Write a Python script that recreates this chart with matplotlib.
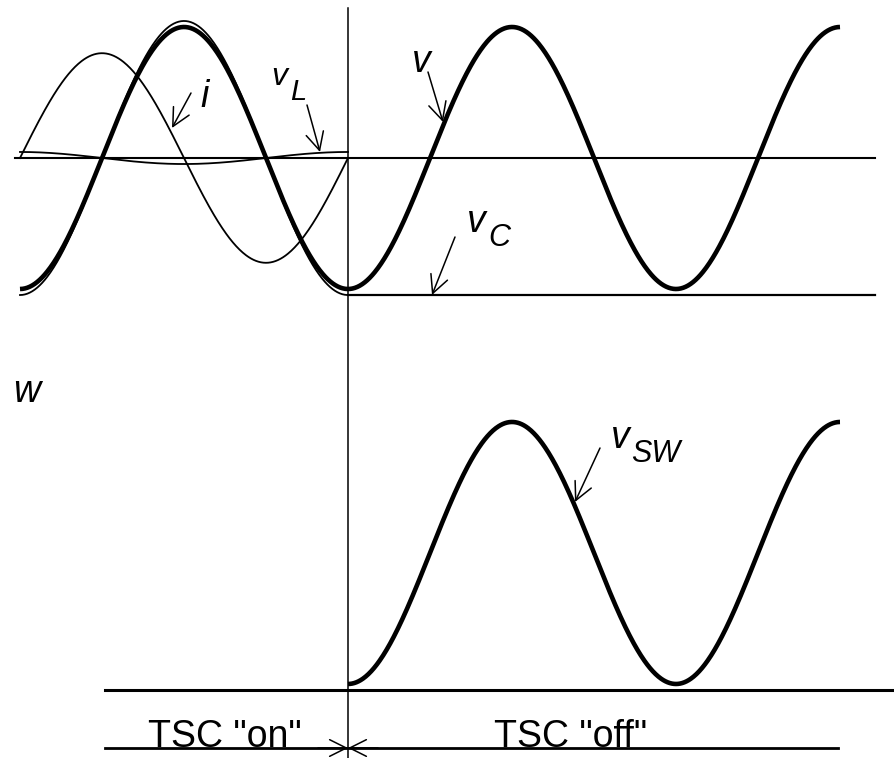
import numpy as np
import matplotlib
matplotlib.use("Agg")
from matplotlib import pyplot as plt

plt.rcParams['font.family'] = ['Liberation Sans', 'DejaVu Sans']

# waveform parameters, per unit of the supply voltage peak
# phase in degrees, 0 = negative peak of v, switch-off at 360
SWITCH_DEG = 360.0
END_DEG = 900.0
V_PEAK = 1.0          # supply voltage v
VC_PEAK = 1.046       # capacitor voltage while TSC is on
VL_PEAK = 0.046       # reactor voltage (v - vC)
I_PEAK = 0.80         # capacitor current (leads v by 90 deg)

# pixel layout of the drawing (schematic, not data)
X0_PX = 20.0          # x pixel of phase 0
PX_PER_DEG = 328.0 / 360.0
Y_TOP_PX = 158.0      # zero line of upper trace
Y_BOT_PX = 690.0      # zero line of switch voltage trace
PX_PER_PU = 131.0

W, H = 895, 758


def px2x(px):
    return (px - X0_PX) / PX_PER_DEG


def px2y(py):
    return (Y_TOP_PX - py) / PX_PER_PU


fig = plt.figure(figsize=(W / 100, H / 100), dpi=100)
ax = fig.add_axes([0, 0, 1, 1])
ax.set_xlim(px2x(0), px2x(W))
ax.set_ylim(px2y(H), px2y(0))
ax.axis('off')

th_on = np.linspace(0, SWITCH_DEG, 400)
th_all = np.linspace(0, END_DEG, 1000)
th_off = np.linspace(SWITCH_DEG, END_DEG, 700)
r_on = np.radians(th_on)

v_all = -V_PEAK * np.cos(np.radians(th_all))
vc_on = -VC_PEAK * np.cos(r_on)
vl_on = VL_PEAK * np.cos(r_on)
i_on = I_PEAK * np.sin(r_on)
vc_hold = -VC_PEAK
vsw_off = -V_PEAK * np.cos(np.radians(th_off)) - vc_hold
y_bot0 = px2y(Y_BOT_PX)

thin = 1.3
thick = 3.3
k = 'black'

# upper traces
ax.plot([px2x(15), px2x(875)], [0, 0], color=k, lw=1.5)
ax.plot(th_on, vc_on, color=k, lw=thin)
ax.plot(th_on, i_on, color=k, lw=thin)
ax.plot(th_on, vl_on, color=k, lw=thin)
ax.plot(th_all, v_all, color=k, lw=thick, solid_capstyle='butt')
ax.plot([SWITCH_DEG, px2x(875)], [vc_hold, vc_hold], color=k, lw=1.6)

# switch voltage
ax.plot([px2x(105), px2x(W)], [y_bot0, y_bot0], color=k, lw=2.2)
ax.plot(th_off, y_bot0 + vsw_off, color=k, lw=thick, solid_capstyle='butt')

# switching instant
ax.plot([SWITCH_DEG, SWITCH_DEG], [px2y(8), px2y(H)], color=k, lw=1.1)

# bottom time bar
yb = px2y(748)
ax.plot([px2x(105), px2x(838)], [yb, yb], color=k, lw=2.0)
for xs in (px2x(318), px2x(378)):
    ax.annotate('', xy=(SWITCH_DEG, yb), xytext=(xs, yb),
                arrowprops=dict(arrowstyle='->', color=k, lw=1.1,
                                mutation_scale=30, shrinkA=0, shrinkB=0))

ax.text(px2x(225), px2y(747), 'TSC "on"', fontsize=27, ha='center',
        va='baseline')
ax.text(px2x(571), px2y(747), 'TSC "off"', fontsize=27, ha='center',
        va='baseline')

# labels with pointers
labels = [
    # text, left px, baseline px, size
    ('i', 200, 107, 27),
    ('v', 271, 85, 23),
    ('L', 290, 100, 21),
    ('v', 412, 72, 27),
    ('v', 467, 232, 27),
    ('C', 488, 246, 22),
    ('v', 611, 448, 27),
    ('SW', 631, 462, 22),
    ('w', 13, 402, 27),
]
for s, lx, by, fs in labels:
    ax.text(px2x(lx), px2y(by), s, fontsize=fs, style='italic',
            ha='left', va='baseline')

pointers = [
    ((191, 93), (172, 128)),
    ((307, 105), (320, 152)),
    ((428, 72), (443, 122)),
    ((455, 237), (432, 295)),
    ((600, 448), (575, 502)),
]
for (x1, y1), (x2, y2) in pointers:
    ax.annotate('', xy=(px2x(x2), px2y(y2)), xytext=(px2x(x1), px2y(y1)),
                arrowprops=dict(arrowstyle='->', color=k, lw=1.1,
                                mutation_scale=32, shrinkA=0, shrinkB=0))

fig.savefig('out.png', dpi=100, facecolor='white')
